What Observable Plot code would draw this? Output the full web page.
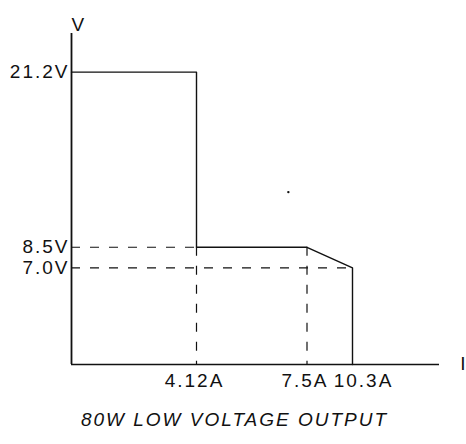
<!DOCTYPE html>
<html><head><meta charset="utf-8">
<script src="https://cdn.jsdelivr.net/npm/d3@7"></script>
<script src="https://cdn.jsdelivr.net/npm/@observablehq/plot@0.6"></script>
<style>body{margin:0;background:#fff}</style>
</head><body><div id="chart"></div>
<script>
// Output characteristic (current in A, voltage in V)
const currentA = [0, 4.12, 4.12, 7.5, 10.3, 10.3];
const voltageV = [21.2, 21.2, 8.5, 8.5, 7.0, 0];
// Dashed guide lines
const hGuideV = [8.5, 7.0];
const hGuideEndA = [4.12, 10.3];
const vGuideA = [4.12, 7.5];
const vGuideTopV = [8.5, 8.5];
// Ticks and labels
const xTicksLeft = [4.12, 7.5];
const xTicksRight = [10.3];
const yTicks = [7.0, 8.5, 21.2];
const xMax = 13.2, yMax = 24;
const caption = "80W LOW VOLTAGE OUTPUT";
const speckA = [6.93], speckV = [12.5];

const curve = currentA.map((a, k) => ({a, v: voltageV[k]}));
const hGuides = hGuideV.map((v, k) => ({v, a1: 0, a2: hGuideEndA[k]}));
const vGuides = vGuideA.map((a, k) => ({a, v1: 0, v2: vGuideTopV[k]}));
const specks = speckA.map((a, k) => ({a, v: speckV[k]}));

const W = 466, H = 444, mL = 71, mR = 27, mT = 33, mB = 80;
const ink = "#111";
const fs = 19;

const chart = Plot.plot({
  width: W, height: H,
  marginLeft: mL, marginRight: mR, marginTop: mT, marginBottom: mB,
  style: {fontFamily: "'Liberation Sans', Arial, sans-serif", fontSize: fs + "px", letterSpacing: "2px", color: ink, background: "#fff"},
  x: {type: "linear", domain: [0, ...xTicksLeft, ...xTicksRight, xMax], range: [mL, 196, 306.5, 352, W - mR]},
  y: {domain: [0, yMax]},
  marks: [
    Plot.ruleX([0], {y1: 0, y2: yMax, stroke: ink, strokeWidth: 1.8}),
    Plot.ruleY([0], {x1: 0, x2: xMax, stroke: ink, strokeWidth: 1.5}),
    Plot.ruleY(hGuides, {y: "v", x1: "a1", x2: "a2", stroke: ink, strokeWidth: 1.2, strokeDasharray: "9,10"}),
    Plot.ruleX(vGuides, {x: "a", y1: "v2", y2: "v1", stroke: ink, strokeWidth: 1.2, strokeDasharray: "9,10"}),
    Plot.line(curve, {x: "a", y: "v", stroke: ink, strokeWidth: 1.4}),
    Plot.dot(specks, {x: "a", y: "v", r: 1.2, fill: ink, stroke: null}),
    Plot.axisY({ticks: yTicks, tickFormat: d => d.toFixed(1) + "V", tickSize: 0, tickPadding: 2, label: null, fill: ink, fontSize: fs}),
    Plot.axisX({ticks: xTicksLeft, tickFormat: d => d + "A", tickSize: 0, tickPadding: 9, dx: -2, label: null, fill: ink, fontSize: fs}),
    Plot.axisX({ticks: xTicksRight, tickFormat: d => d + "A", tickSize: 0, tickPadding: 9, dx: 11, label: null, fill: ink, fontSize: fs}),
    Plot.text(["V"], {frameAnchor: "top-left", dy: -16, text: d => d, fill: ink, fontSize: fs}),
    Plot.text(["I"], {frameAnchor: "bottom-right", dx: 28, dy: 5, text: d => d, fill: ink, fontSize: fs}),
    Plot.text([caption], {frameAnchor: "bottom", dx: -21, dy: 61, text: d => d, fontStyle: "italic", fontSize: fs, fill: ink, letterSpacing: "2.7px"})
  ]
});
document.getElementById("chart").appendChild(chart);
</script>
</body></html>
